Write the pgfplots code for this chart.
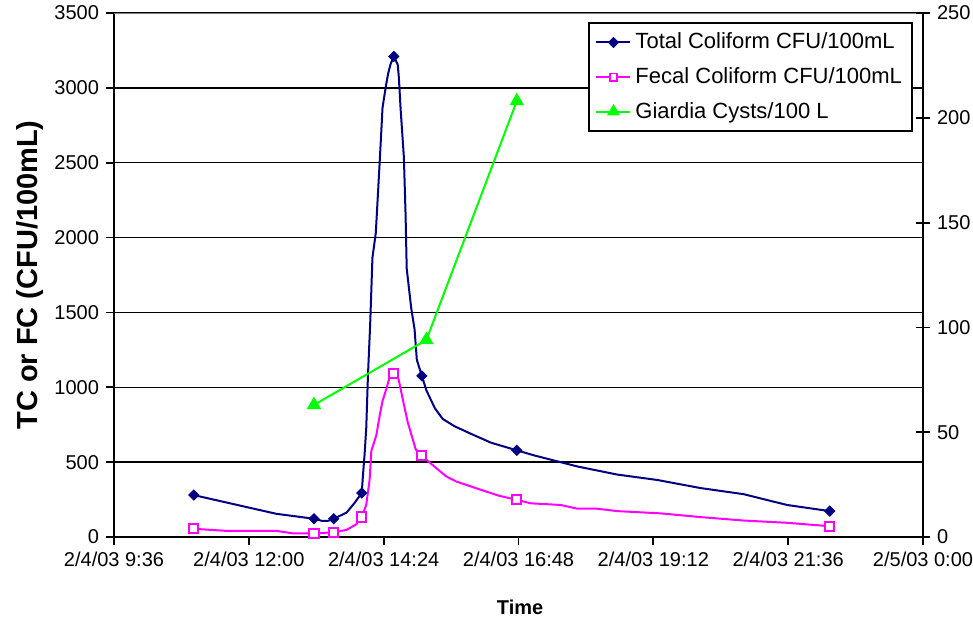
\documentclass[border=0pt]{standalone}
\usepackage{fontspec}
\setmainfont{Liberation Sans}
\usepackage{pgfplots}
\pgfplotsset{compat=1.18}
\definecolor{tcnavy}{RGB}{0,0,128}
\definecolor{fcmag}{RGB}{255,0,255}
\definecolor{gdgreen}{RGB}{0,255,0}
\definecolor{topgray}{RGB}{128,128,128}

\begin{document}
\begin{tikzpicture}
\pgfplotsset{
  common/.style={
    scale only axis, width=404.5pt, height=262pt,
    xmin=9.6, xmax=24,
    /pgf/number format/assume math mode=true,
    /pgf/number format/1000 sep={},
    scaled ticks=false,
    tick style={black, line width=0.9pt},
    major tick length=4pt,
    ticklabel style={font=\fontsize{10}{12}\selectfont},
    axis line style={-, black, line width=1pt},
  },
  tcmark/.style={mark=square*, mark size=1.8pt, mark options={rotate=45, fill=tcnavy, draw=tcnavy}},
  fcmark/.style={mark=square*, mark size=2.3pt, mark options={fill=white, draw=fcmag, line width=1pt}},
}
\begin{axis}[common,
  ymin=0, ymax=3500, ytick={0,500,...,3500},
  xtick={9.6,12,14.4,16.8,19.2,21.6,24},
  xticklabels={2/4/03 9:36, 2/4/03 12:00, 2/4/03 14:24, 2/4/03 16:48, 2/4/03 19:12, 2/4/03 21:36, 2/5/03 0:00},
  axis x line*=bottom, axis y line*=left,
  tick align=outside,
  ymajorgrids, major grid style={black, line width=0.75pt},
  ylabel={TC or FC (CFU/100mL)}, xlabel={Time},
  ylabel style={at={(axis description cs:-0.104,0.5)}, anchor=center, font=\fontsize{14.5}{16}\selectfont\bfseries},
  xlabel style={at={(axis description cs:0.502,-0.1336)}, anchor=center, font=\fontsize{10}{12}\selectfont\bfseries},
]
% Total coliform (curve)
\addplot[tcnavy, line width=1pt, mark=none] coordinates {
(11.02,280) (12.49,155) (13.16,122) (13.30,108) (13.41,108) (13.51,122)
(13.74,163) (13.88,227) (14.01,294) (14.03,406) (14.06,550) (14.09,729)
(14.12,1076) (14.16,1423) (14.20,1865) (14.26,2032) (14.33,2510) (14.38,2869)
(14.44,3013) (14.48,3096) (14.52,3156) (14.58,3210) (14.65,3156) (14.67,3072)
(14.70,2869) (14.76,2534) (14.79,2152) (14.81,1793) (14.89,1530) (14.95,1387)
(14.99,1184) (15.08,1076) (15.16,980) (15.31,861) (15.45,789) (15.66,740)
(15.95,690) (16.31,630) (16.77,579) (17.08,545) (17.85,471) (18.56,417)
(19.27,381) (20.04,327) (20.81,286) (21.58,214) (22.34,173)
};
\addplot[only marks, tcnavy, tcmark] coordinates {
(11.02,280) (13.16,122) (13.51,122) (14.01,294) (14.58,3210) (15.08,1076) (16.77,579) (22.34,173)
};
% Fecal coliform (curve)
\addplot[fcmag, line width=1pt, mark=none] coordinates {
(11.02,55) (11.60,41) (12.49,41) (12.79,24) (13.16,24) (13.51,31) (13.74,48)
(13.91,84) (14.01,134) (14.09,215) (14.15,383) (14.18,574) (14.27,681)
(14.33,813) (14.38,909) (14.45,992) (14.51,1076) (14.58,1090) (14.65,1076)
(14.68,1028) (14.76,885) (14.83,765) (14.97,586) (15.08,543) (15.28,478)
(15.51,406) (15.69,371) (16.11,318) (16.46,275) (16.77,248) (17.02,225)
(17.55,214) (17.85,189) (18.20,189) (18.56,173) (19.33,158) (20.04,133)
(20.81,110) (21.58,95) (22.34,72)
};
\addplot[only marks, fcmag, fcmark] coordinates {
(11.02,55) (13.16,24) (13.51,31) (14.01,134) (14.58,1090) (15.08,543) (16.77,248) (22.34,72)
};
\draw[topgray, line width=1pt] (rel axis cs:0,1) -- (rel axis cs:1,1);
\end{axis}

\begin{axis}[common,
  ymin=0, ymax=250, ytick={0,50,...,250},
  axis y line*=right, axis x line=none,
  tick align=center, major tick length=7pt,
  legend style={at={(1,1)}, anchor=north east, xshift=-5pt, yshift=-4.5pt,
    draw=black, line width=1pt, font=\fontsize{11}{13.5}\selectfont,
    cells={anchor=west}, row sep=3.8pt, inner sep=3pt},
  legend image code/.code={\draw[#1] plot coordinates {(0pt,0pt) (8.5pt,0pt) (17pt,0pt)};},
]
\addlegendimage{tcnavy, line width=1pt, mark=square*, mark size=1.5pt, mark options={rotate=45, fill=tcnavy}, mark indices={2}}
\addlegendentry{Total Coliform CFU/100mL}
\addlegendimage{fcmag, line width=1pt, mark=square*, mark size=1.8pt, mark options={fill=white, draw=fcmag, line width=0.9pt}, mark indices={2}}
\addlegendentry{Fecal Coliform CFU/100mL}
\addlegendimage{gdgreen, line width=1pt, mark=triangle*, mark size=2.8pt, mark options={fill=gdgreen}, mark indices={2}}
\addlegendentry{Giardia Cysts/100 L}
\addplot[forget plot, gdgreen, line width=1pt, mark=triangle*, mark size=3.2pt, mark options={fill=gdgreen}] coordinates {
(13.16,63) (15.16,94) (16.77,208)
};
\end{axis}
\pgfresetboundingbox
\path (-57pt,-43pt) rectangle (429.5pt,268.5pt);
\end{tikzpicture}
\end{document}
